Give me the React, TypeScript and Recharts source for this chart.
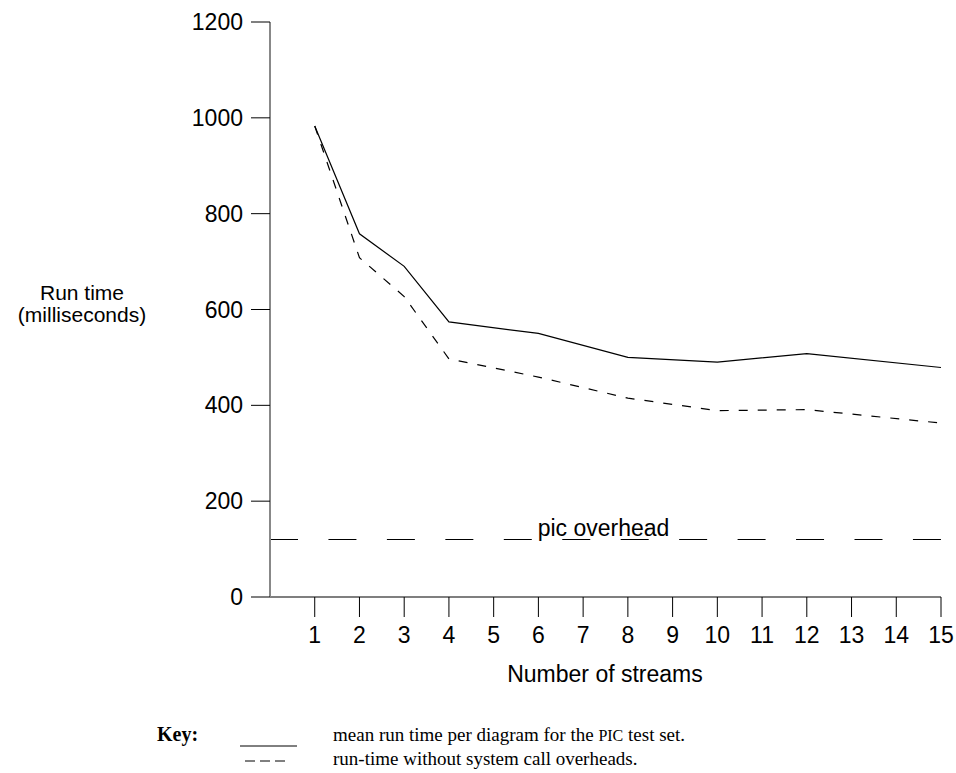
import { LineChart, Line, XAxis, YAxis, ReferenceLine } from "recharts"

// number of streams where run time was measured
const streams = [1, 2, 3, 4, 6, 8, 10, 12, 15]
// mean run time per diagram (ms)
const meanRunTime = [983, 758, 690, 574, 550, 500, 490, 508, 479]
// run time without system call overheads (ms)
const withoutSysCalls = [983, 708, 627, 497, 459, 415, 389, 391, 363]
const picOverhead = 120

const xTicks = [1, 2, 3, 4, 5, 6, 7, 8, 9, 10, 11, 12, 13, 14, 15]
const yTicks = [0, 200, 400, 600, 800, 1000, 1200]

const sans = "'Liberation Sans', Arial, Helvetica, sans-serif"
const serif = "'Liberation Serif', 'Times New Roman', serif"

const data = streams.map((s, i) => ({
  streams: s,
  mean: meanRunTime[i],
  noSys: withoutSysCalls[i],
}))

const tickStyle = { fill: "#000", fontSize: 23, fontFamily: sans }

function YTitle() {
  return (
    <g fontFamily={sans} fontSize={21} fill="#000">
      <text x={82} y={300} textAnchor="middle">Run time</text>
      <text x={82} y={322} textAnchor="middle">(milliseconds)</text>
    </g>
  )
}

function XTitle() {
  return (
    <text x={605} y={682} textAnchor="middle" fontFamily={sans} fontSize={23} fill="#000">
      Number of streams
    </text>
  )
}

function OverheadLabel(props: any) {
  const vb = props.viewBox || {}
  return (
    <text
      x={vb.x + vb.width / 2 - 2}
      y={vb.y - 4}
      textAnchor="middle"
      fontFamily={sans}
      fontSize={23}
      fill="#000"
    >
      pic overhead
    </text>
  )
}

export default function App() {
  return (
    <div style={{ position: "absolute", left: 0, top: 0, width: 956, height: 773, background: "#fff" }}>
      <LineChart
        width={956}
        height={700}
        data={data}
        margin={{ top: 22, right: 15, left: 210, bottom: 43 }}
      >
        <XAxis
          dataKey="streams"
          type="number"
          domain={[0, 15]}
          ticks={xTicks}
          interval={0}
          height={60}
          tickSize={20}
          tickMargin={10}
          tick={tickStyle}
          axisLine={{ stroke: "#000", strokeWidth: 1.2 }}
          tickLine={{ stroke: "#000" }}
          label={XTitle}
        />
        <YAxis
          type="number"
          domain={[0, 1200]}
          ticks={yTicks}
          interval={0}
          width={60}
          tickSize={19}
          tickMargin={8}
          tick={tickStyle}
          axisLine={{ stroke: "#888", strokeWidth: 2 }}
          tickLine={{ stroke: "#000" }}
          label={YTitle}
        />
        <ReferenceLine
          y={picOverhead}
          stroke="#000"
          strokeWidth={1}
          strokeDasharray="28 30.45"
          label={OverheadLabel}
        />
        <Line
          type="linear"
          dataKey="mean"
          stroke="#000"
          strokeWidth={1.2}
          dot={false}
          isAnimationActive={false}
        />
        <Line
          type="linear"
          dataKey="noSys"
          stroke="#000"
          strokeWidth={1.2}
          strokeDasharray="9 10"
          dot={false}
          isAnimationActive={false}
        />
      </LineChart>
      <svg width={956} height={73} style={{ position: "absolute", left: 0, top: 700 }}>
        <text x={157} y={41} fontFamily={serif} fontSize={20} fontWeight="bold" fill="#000">
          Key:
        </text>
        <line x1={240} x2={297} y1={46} y2={46} stroke="#000" strokeWidth={1} />
        <text x={333} y={41} fontFamily={serif} fontSize={19} fill="#000">
          mean run time per diagram for the <tspan fontSize={16}>PIC</tspan> test set.
        </text>
        <line x1={245} x2={287} y1={61} y2={61} stroke="#000" strokeWidth={1} strokeDasharray="10 5" />
        <text x={333} y={65} fontFamily={serif} fontSize={19} fill="#000">
          run-time without system call overheads.
        </text>
      </svg>
    </div>
  )
}
